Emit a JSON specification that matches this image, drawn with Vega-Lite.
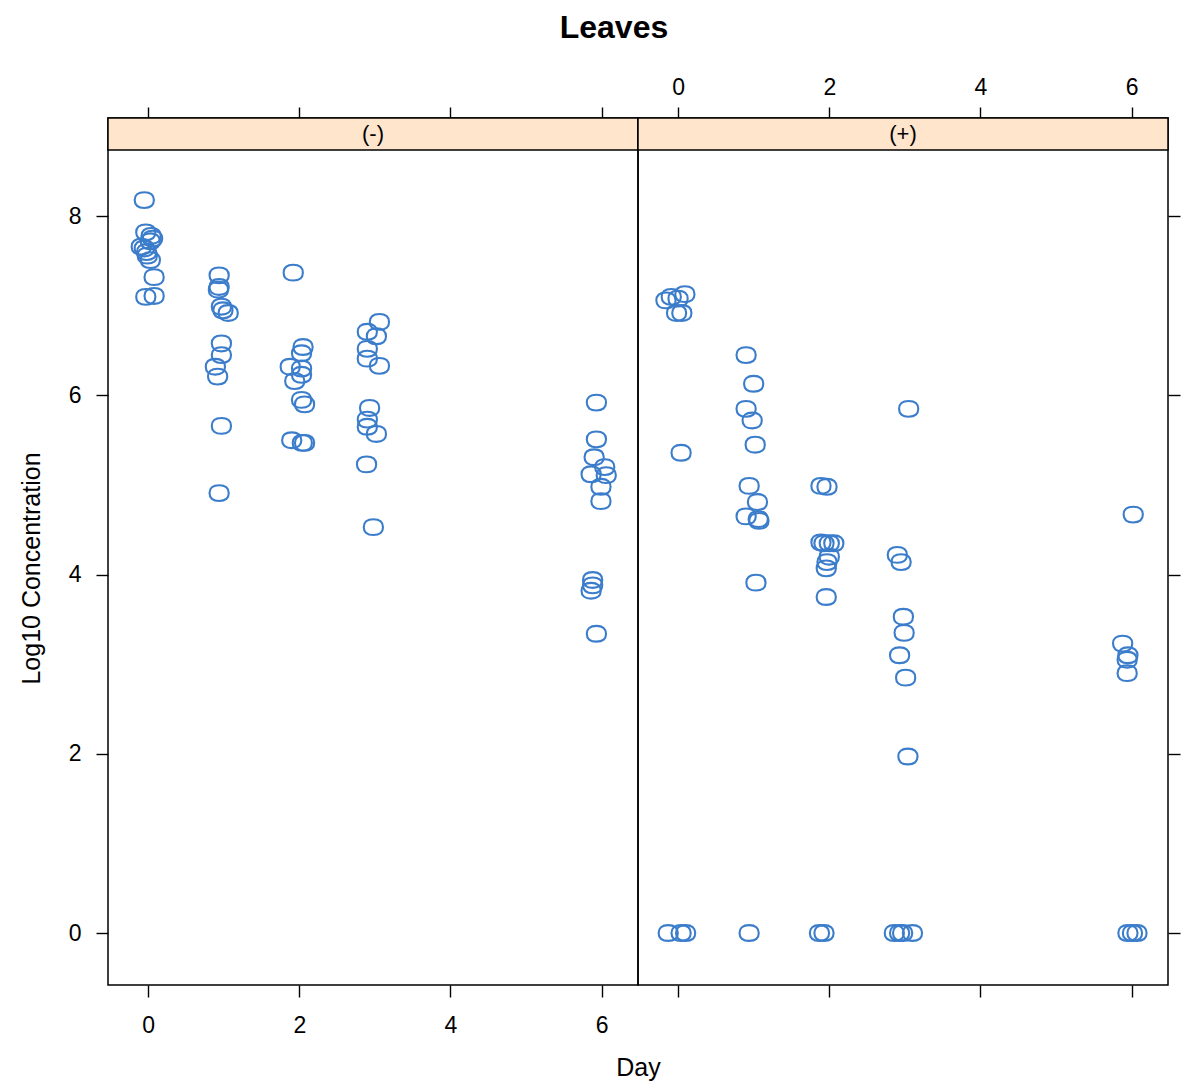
{
  "$schema": "https://vega.github.io/schema/vega-lite/v6.json",
  "background": "white",
  "padding": {"left": 18, "top": 12, "right": 6, "bottom": 4},
  "bounds": "flush",
  "title": {"text": "Leaves", "fontSize": 32, "fontWeight": "bold", "font": "Liberation Sans", "color": "black", "anchor": "middle", "offset": 30, "dx": 14},
  "datasets": {
    "leaves": [
      {"panel": "(-)", "day": -0.05, "value": 8.18},
      {"panel": "(-)", "day": -0.03, "value": 7.82},
      {"panel": "(-)", "day": 0.04, "value": 7.78},
      {"panel": "(-)", "day": 0.06, "value": 7.75},
      {"panel": "(-)", "day": 0.03, "value": 7.72},
      {"panel": "(-)", "day": -0.09, "value": 7.66},
      {"panel": "(-)", "day": -0.05, "value": 7.64},
      {"panel": "(-)", "day": -0.02, "value": 7.60},
      {"panel": "(-)", "day": -0.01, "value": 7.56},
      {"panel": "(-)", "day": 0.03, "value": 7.51},
      {"panel": "(-)", "day": 0.08, "value": 7.32},
      {"panel": "(-)", "day": -0.03, "value": 7.10},
      {"panel": "(-)", "day": 0.08, "value": 7.11},
      {"panel": "(-)", "day": 0.94, "value": 7.34},
      {"panel": "(-)", "day": 0.94, "value": 7.21},
      {"panel": "(-)", "day": 0.93, "value": 7.18},
      {"panel": "(-)", "day": 0.97, "value": 6.99},
      {"panel": "(-)", "day": 0.99, "value": 6.95},
      {"panel": "(-)", "day": 1.06, "value": 6.92},
      {"panel": "(-)", "day": 0.97, "value": 6.58},
      {"panel": "(-)", "day": 0.97, "value": 6.45},
      {"panel": "(-)", "day": 0.89, "value": 6.32},
      {"panel": "(-)", "day": 0.92, "value": 6.21},
      {"panel": "(-)", "day": 0.97, "value": 5.66},
      {"panel": "(-)", "day": 0.94, "value": 4.91},
      {"panel": "(-)", "day": 1.92, "value": 7.37},
      {"panel": "(-)", "day": 2.05, "value": 6.54},
      {"panel": "(-)", "day": 2.03, "value": 6.47},
      {"panel": "(-)", "day": 1.88, "value": 6.32},
      {"panel": "(-)", "day": 2.03, "value": 6.30},
      {"panel": "(-)", "day": 2.03, "value": 6.23},
      {"panel": "(-)", "day": 1.94, "value": 6.16},
      {"panel": "(-)", "day": 2.03, "value": 5.95},
      {"panel": "(-)", "day": 2.07, "value": 5.90},
      {"panel": "(-)", "day": 1.90, "value": 5.50},
      {"panel": "(-)", "day": 2.04, "value": 5.47},
      {"panel": "(-)", "day": 2.07, "value": 5.47},
      {"panel": "(-)", "day": 3.06, "value": 6.82},
      {"panel": "(-)", "day": 2.90, "value": 6.71},
      {"panel": "(-)", "day": 3.02, "value": 6.66},
      {"panel": "(-)", "day": 2.90, "value": 6.52},
      {"panel": "(-)", "day": 2.90, "value": 6.41},
      {"panel": "(-)", "day": 3.06, "value": 6.33},
      {"panel": "(-)", "day": 2.93, "value": 5.86},
      {"panel": "(-)", "day": 2.90, "value": 5.73},
      {"panel": "(-)", "day": 2.90, "value": 5.65},
      {"panel": "(-)", "day": 3.02, "value": 5.57},
      {"panel": "(-)", "day": 2.89, "value": 5.23},
      {"panel": "(-)", "day": 2.98, "value": 4.53},
      {"panel": "(-)", "day": 5.93, "value": 5.92},
      {"panel": "(-)", "day": 5.93, "value": 5.51},
      {"panel": "(-)", "day": 5.90, "value": 5.31},
      {"panel": "(-)", "day": 6.04, "value": 5.20},
      {"panel": "(-)", "day": 5.86, "value": 5.12},
      {"panel": "(-)", "day": 6.06, "value": 5.11},
      {"panel": "(-)", "day": 5.99, "value": 4.98},
      {"panel": "(-)", "day": 5.99, "value": 4.82},
      {"panel": "(-)", "day": 5.88, "value": 3.94},
      {"panel": "(-)", "day": 5.88, "value": 3.88},
      {"panel": "(-)", "day": 5.86, "value": 3.82},
      {"panel": "(-)", "day": 5.93, "value": 3.34},
      {"panel": "(+)", "day": -0.16, "value": 7.06},
      {"panel": "(+)", "day": -0.09, "value": 7.10},
      {"panel": "(+)", "day": 0.00, "value": 7.08},
      {"panel": "(+)", "day": 0.09, "value": 7.13},
      {"panel": "(+)", "day": -0.02, "value": 6.92},
      {"panel": "(+)", "day": 0.05, "value": 6.92},
      {"panel": "(+)", "day": 0.04, "value": 5.36},
      {"panel": "(+)", "day": -0.13, "value": 0},
      {"panel": "(+)", "day": 0.04, "value": 0},
      {"panel": "(+)", "day": 0.10, "value": 0},
      {"panel": "(+)", "day": 0.90, "value": 6.45},
      {"panel": "(+)", "day": 1.00, "value": 6.13},
      {"panel": "(+)", "day": 0.90, "value": 5.85},
      {"panel": "(+)", "day": 0.98, "value": 5.72},
      {"panel": "(+)", "day": 1.02, "value": 5.45},
      {"panel": "(+)", "day": 0.94, "value": 4.99},
      {"panel": "(+)", "day": 1.05, "value": 4.81},
      {"panel": "(+)", "day": 0.90, "value": 4.65},
      {"panel": "(+)", "day": 1.06, "value": 4.62},
      {"panel": "(+)", "day": 1.07, "value": 4.60},
      {"panel": "(+)", "day": 1.03, "value": 3.91},
      {"panel": "(+)", "day": 0.94, "value": 0},
      {"panel": "(+)", "day": 1.89, "value": 4.99},
      {"panel": "(+)", "day": 1.97, "value": 4.98},
      {"panel": "(+)", "day": 1.89, "value": 4.36},
      {"panel": "(+)", "day": 1.93, "value": 4.35},
      {"panel": "(+)", "day": 2.00, "value": 4.35},
      {"panel": "(+)", "day": 2.06, "value": 4.35},
      {"panel": "(+)", "day": 2.00, "value": 4.20},
      {"panel": "(+)", "day": 1.97, "value": 4.14},
      {"panel": "(+)", "day": 1.96, "value": 4.07},
      {"panel": "(+)", "day": 1.96, "value": 3.75},
      {"panel": "(+)", "day": 1.87, "value": 0},
      {"panel": "(+)", "day": 1.93, "value": 0},
      {"panel": "(+)", "day": 3.05, "value": 5.85},
      {"panel": "(+)", "day": 2.90, "value": 4.22},
      {"panel": "(+)", "day": 2.95, "value": 4.14},
      {"panel": "(+)", "day": 2.98, "value": 3.53},
      {"panel": "(+)", "day": 2.99, "value": 3.35},
      {"panel": "(+)", "day": 2.93, "value": 3.10},
      {"panel": "(+)", "day": 3.01, "value": 2.85},
      {"panel": "(+)", "day": 3.04, "value": 1.97},
      {"panel": "(+)", "day": 2.86, "value": 0},
      {"panel": "(+)", "day": 2.93, "value": 0},
      {"panel": "(+)", "day": 2.97, "value": 0},
      {"panel": "(+)", "day": 3.10, "value": 0},
      {"panel": "(+)", "day": 6.02, "value": 4.67},
      {"panel": "(+)", "day": 5.88, "value": 3.23},
      {"panel": "(+)", "day": 5.95, "value": 3.10},
      {"panel": "(+)", "day": 5.94, "value": 3.05},
      {"panel": "(+)", "day": 5.94, "value": 2.90},
      {"panel": "(+)", "day": 5.95, "value": 0},
      {"panel": "(+)", "day": 6.01, "value": 0},
      {"panel": "(+)", "day": 6.07, "value": 0}
    ]
  },
  "data": {"name": "leaves"},
  "spacing": 0,
  "hconcat": [
    {
      "width": 530,
      "height": 867,
      "resolve": {"axis": {"x": "independent", "y": "independent"}},
      "layer": [
        {
          "data": {"values": [{}]},
          "mark": {"type": "rect", "fill": "#ffe5cc", "stroke": "black", "strokeWidth": 1.5},
          "encoding": {
            "x": {"datum": -0.53, "type": "quantitative", "scale": {"domain": [-0.53, 6.48], "nice": false, "zero": false}, "axis": null},
            "x2": {"datum": 6.48},
            "y": {"datum": 8.74, "type": "quantitative", "scale": {"domain": [-0.58, 9.096], "nice": false, "zero": false}, "axis": null},
            "y2": {"datum": 9.096}
          }
        },
        {
          "data": {"values": [{}]},
          "mark": {"type": "text", "fontSize": 22, "font": "Liberation Sans", "color": "black", "baseline": "middle", "align": "center"},
          "encoding": {
            "x": {"datum": 2.975, "type": "quantitative", "scale": {"domain": [-0.53, 6.48], "nice": false, "zero": false},
                  "axis": {"orient": "top", "values": [0, 2, 4, 6], "labels": false, "title": null, "tickSize": 11}},
            "y": {"datum": 8.918, "type": "quantitative", "scale": {"domain": [-0.58, 9.096], "nice": false, "zero": false}, "axis": null},
            "text": {"value": "(-)"}
          }
        },
        {
          "transform": [{"filter": "datum.panel === '(-)'"}],
          "mark": {"type": "point", "shape": "M 0 -0.82 C 0.68 -0.82 1 -0.52 1 0 C 1 0.52 0.68 0.82 0 0.82 C -0.68 0.82 -1 0.52 -1 0 C -1 -0.52 -0.68 -0.82 0 -0.82 Z", "size": 370, "strokeWidth": 2.1, "color": "#3b7dcb", "filled": false, "opacity": 1},
          "encoding": {
            "x": {"field": "day", "type": "quantitative", "scale": {"domain": [-0.53, 6.48], "nice": false, "zero": false},
                  "axis": {"orient": "bottom", "values": [0, 2, 4, 6], "title": "Day", "titleX": 530, "titlePadding": 18, "titleFontSize": 25, "tickSize": 12, "labelPadding": 17}},
            "y": {"field": "value", "type": "quantitative", "scale": {"domain": [-0.58, 9.096], "nice": false, "zero": false},
                  "axis": {"orient": "left", "values": [0, 2, 4, 6, 8], "title": "Log10 Concentration", "titleY": 450, "titlePadding": 24, "titleFontSize": 25, "tickSize": 12, "labelPadding": 15}}
          }
        }
      ]
    },
    {
      "width": 530,
      "height": 867,
      "resolve": {"axis": {"x": "independent", "y": "independent"}},
      "layer": [
        {
          "data": {"values": [{}]},
          "mark": {"type": "rect", "fill": "#ffe5cc", "stroke": "black", "strokeWidth": 1.5},
          "encoding": {
            "x": {"datum": -0.53, "type": "quantitative", "scale": {"domain": [-0.53, 6.48], "nice": false, "zero": false}, "axis": null},
            "x2": {"datum": 6.48},
            "y": {"datum": 8.74, "type": "quantitative", "scale": {"domain": [-0.58, 9.096], "nice": false, "zero": false}, "axis": null},
            "y2": {"datum": 9.096}
          }
        },
        {
          "data": {"values": [{}]},
          "mark": {"type": "text", "fontSize": 22, "font": "Liberation Sans", "color": "black", "baseline": "middle", "align": "center"},
          "encoding": {
            "x": {"datum": 2.975, "type": "quantitative", "scale": {"domain": [-0.53, 6.48], "nice": false, "zero": false},
                  "axis": {"orient": "bottom", "values": [0, 2, 4, 6], "labels": false, "title": null, "tickSize": 12}},
            "y": {"datum": 8.918, "type": "quantitative", "scale": {"domain": [-0.58, 9.096], "nice": false, "zero": false}, "axis": null},
            "text": {"value": "(+)"}
          }
        },
        {
          "transform": [{"filter": "datum.panel === '(+)'"}],
          "mark": {"type": "point", "shape": "M 0 -0.82 C 0.68 -0.82 1 -0.52 1 0 C 1 0.52 0.68 0.82 0 0.82 C -0.68 0.82 -1 0.52 -1 0 C -1 -0.52 -0.68 -0.82 0 -0.82 Z", "size": 370, "strokeWidth": 2.1, "color": "#3b7dcb", "filled": false, "opacity": 1},
          "encoding": {
            "x": {"field": "day", "type": "quantitative", "scale": {"domain": [-0.53, 6.48], "nice": false, "zero": false},
                  "axis": {"orient": "top", "values": [0, 2, 4, 6], "title": null, "tickSize": 11, "labelPadding": 8}},
            "y": {"field": "value", "type": "quantitative", "scale": {"domain": [-0.58, 9.096], "nice": false, "zero": false},
                  "axis": {"orient": "right", "values": [0, 2, 4, 6, 8], "labels": false, "title": null, "tickSize": 12}}
          }
        }
      ]
    }
  ],
  "config": {
    "font": "Liberation Sans",
    "view": {"stroke": "black", "strokeWidth": 1.5},
    "axis": {
      "domain": false,
      "grid": false,
      "ticks": true,
      "tickColor": "black",
      "tickWidth": 1.4,
      "labelColor": "black",
      "labelFont": "Liberation Sans",
      "labelFontSize": 23,
      "titleColor": "black",
      "titleFont": "Liberation Sans",
      "titleFontWeight": "normal"
    }
  }
}
